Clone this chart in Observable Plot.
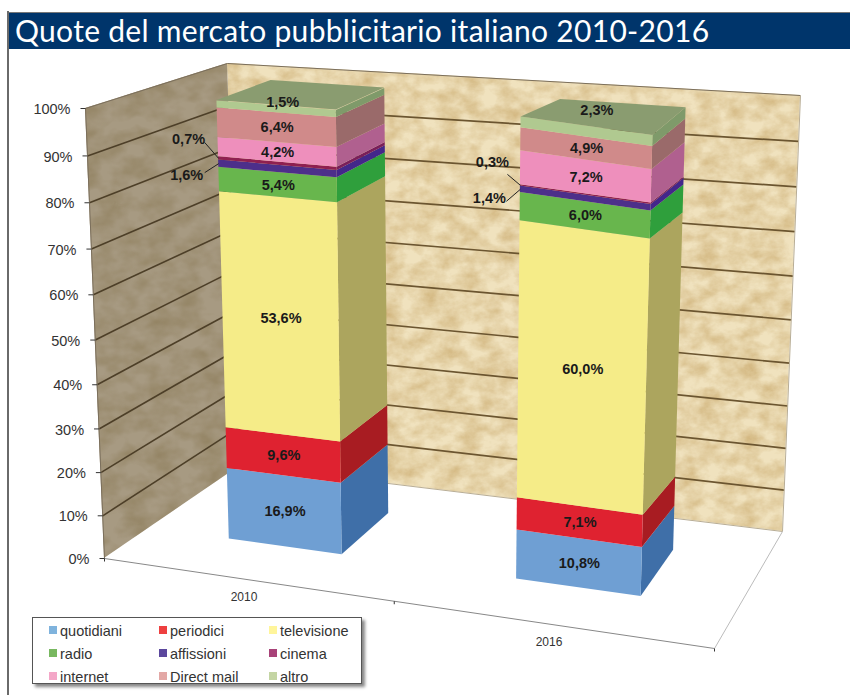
<!DOCTYPE html>
<html><head><meta charset="utf-8">
<script src="https://cdn.jsdelivr.net/npm/d3@7"></script>
<script src="https://cdn.jsdelivr.net/npm/@observablehq/plot@0.6"></script>
<style>
html,body{margin:0;padding:0;background:#fff;}
#page{position:relative;width:850px;height:695px;overflow:hidden;font-family:"Liberation Sans",Arial,sans-serif;}
#frame{position:absolute;left:7px;top:11px;bottom:0;width:0;border-left:2px solid #6a6a6a;z-index:3}
#pad{height:12px}
#title{margin-left:8px;height:37px;background:#00356b;color:#fff;border-top:1px solid #777;box-sizing:border-box;
 font-family:Lato,"Open Sans",sans-serif;font-weight:400;font-size:30px;line-height:35px;padding-left:7px;white-space:nowrap;letter-spacing:0.3px;}
#legend{position:absolute;left:32px;top:617px;width:330px;height:67px;box-sizing:border-box;background:#fff;border:1px solid #555;
 box-shadow:3px 3px 3px #888;display:grid;grid-template-columns:110px 110px 100px;grid-auto-rows:23px;padding:1px 0 0 16px;font-size:14.5px;color:#333;}
#legend div{display:flex;align-items:center;white-space:nowrap}
#legend i{display:inline-block;width:8px;height:8px;margin-right:3px;position:relative;top:-1px}
</style></head>
<body>
<svg width="0" height="0" style="position:absolute"><defs>
<filter id="marble" x="0" y="0" width="100%" height="100%" color-interpolation-filters="sRGB">
<feTurbulence type="fractalNoise" baseFrequency="0.05 0.07" numOctaves="4" seed="4" result="n"/>
<feColorMatrix in="n" type="matrix" values="0 0 0 0 .80  0 0 0 0 .68  0 0 0 0 .45  1.3 0 0 0 -0.38" result="c"/>
<feComposite in="c" in2="SourceAlpha" operator="in" result="t"/>
<feMerge><feMergeNode in="SourceGraphic"/><feMergeNode in="t"/></feMerge>
</filter>
<filter id="marbleDark" x="0" y="0" width="100%" height="100%" color-interpolation-filters="sRGB">
<feTurbulence type="fractalNoise" baseFrequency="0.04 0.06" numOctaves="3" seed="9" result="n"/>
<feColorMatrix in="n" type="matrix" values="0 0 0 0 .52  0 0 0 0 .45  0 0 0 0 .30  1.0 0 0 0 -0.33" result="c"/>
<feComposite in="c" in2="SourceAlpha" operator="in" result="t"/>
<feMerge><feMergeNode in="SourceGraphic"/><feMergeNode in="t"/></feMerge>
</filter></defs></svg>
<div id="page">
<div id="frame"></div>
<div id="pad"></div>
<div id="title">Quote del mercato pubblicitario italiano 2010-2016</div>
<div id="chart"></div>
<div id="legend"></div>
</div>
<script>
const years = ["2010", "2016"];
const series = ["quotidiani","periodici","televisione","radio","affissioni","cinema","internet","Direct mail","altro"];
const values2010 = [16.9, 9.6, 53.6, 5.4, 1.6, 0.7, 4.2, 6.4, 1.5];
const values2016 = [10.8, 7.1, 60.0, 6.0, 1.4, 0.3, 7.2, 4.9, 2.3];
const yTicks = [0,10,20,30,40,50,60,70,80,90,100];
const legendColors = ["#7fb3dd","#ee4040","#fff59b","#78b860","#5b479d","#a84278","#f4a7c8","#e3a8a6","#c4d5a4"];
const frontColors = ["#6f9fd3","#df2230","#f5ec88","#68b64d","#4d2f8a","#8f2050","#ee8fbc","#d08a8a","#b0c990"];
const sideColors  = ["#3f6fa8","#a81c22","#aca55e","#2f9f3c","#43278a","#7a1f5a","#b0608f","#9a6a6a","#7f9a6a"];
const topColor = "#8a9c70";

// Oblique view of the chart box: corners of the box as seen in the picture.
const box = {
  floor: {A:[104,558],B:[714,648],C:[782,531],D:[240,465]},
  roof:  {A:[85,108], B:[731,167],C:[800,95], D:[227,63]}
};
const barU = [[.136,.328],[.625,.837]];
const barV = [.33,.74];
const wallPersp = 1.06;
const barPersp = [[1.06,1.06],[1.02,1.1]];   // front, back of each bar
const barLift = [0,8];                       // front-left corner of a bar, at its top
const lerp = (a,b,t)=>[a[0]+(b[0]-a[0])*t, a[1]+(b[1]-a[1])*t];
function plane(p,u,v){ return lerp(lerp(p.A,p.B,u), lerp(p.D,p.C,u), v); }
// u: across, v: depth, w: percent, k: perspective along the height, lift: upward shift at the top
function P(u,v,w,k=wallPersp,lift=0){
  const t = w/100, tt = t/(t+(1-t)*k);
  const p = lerp(plane(box.floor,u,v), plane(box.roof,u,v), tt);
  return [p[0], p[1]-lift*tt];
}
const quad = (a,b,c,d,extra)=>[
  {x1:a[0],y1:a[1],x2:b[0],y2:b[1],...extra},
  {x1:d[0],y1:d[1],x2:c[0],y2:c[1],...extra}];

// Walls
const backWall = quad(P(0,1,0),P(0,1,100),P(1,1,100),P(1,1,0));
const sideWall = quad(P(0,0,0),P(0,0,100),P(0,1,100),P(0,1,0));

// Bars
const front=[], side=[], topFaces=[], mainLabels=[], sideLabels=[], leaders=[];
const fmt = v=>v.toFixed(1).replace(".",",")+"%";
// the top slice is labelled on the top face; thin slices beside the bar with a leader
const nudges = {"0-8":[6,-7],"1-8":[10,-21]};
const outside = {"0-4":[-32,12,18,-3],"0-5":[-30,-19,16,3],"1-4":[-31,9,17,3],"1-5":[-28,-23,15,12]};
[values2010,values2016].forEach((vals,b)=>{
  const [u0,u1]=barU[b], [v0,v1]=barV, [kf,kb]=barPersp[b], lf=barLift[b];
  const FL=w=>P(u0,v0,w,kf,lf), FR=w=>P(u1,v0,w,kf), BR=w=>P(u1,v1,w,kb);
  let cum=0;
  vals.forEach((v,s)=>{
    const lo=cum, hi=cum+v; cum=hi;
    const key=b+"-"+s;
    front.push(...quad(FL(lo),FL(hi),FR(hi),FR(lo),{k:key,series:series[s]}));
    side.push(...quad(FR(lo),FR(hi),BR(hi),BR(lo),{k:key,fill:sideColors[s]}));
    const mid=(lo+hi)/2;
    if (outside[key]) {
      const e=FL(mid), o=outside[key];
      const lx=e[0]+o[0], ly=e[1]+o[1];
      sideLabels.push({x:lx,y:ly,text:fmt(v)});
      leaders.push({x1:lx+o[2],y1:ly+o[3],x2:e[0],y2:e[1]});
    } else {
      const c=lerp(FL(mid),FR(mid),.5), n=nudges[key]||[0,0];
      mainLabels.push({x:c[0]+n[0],y:c[1]+n[1],text:fmt(v)});
    }
  });
  topFaces.push(...quad(FL(100),P(u0,v1,100),BR(100),FR(100),{k:years[b]}));
});

const inner = yTicks.filter(t=>t>0&&t<100);
const gridLeft = inner.map(t=>{const a=P(0,0,t),b=P(0,1,t);return{x1:a[0],y1:a[1],x2:b[0],y2:b[1]};});
const gridBack = inner.map(t=>{const a=P(0,1,t),b=P(1,1,t);return{x1:a[0],y1:a[1],x2:b[0],y2:b[1]};});
const tickRows = yTicks.map(t=>{const a=P(0,0,t);return{x:a[0],y:a[1],t};});
const edgeOf=(a,b)=>({x1:a[0],y1:a[1],x2:b[0],y2:b[1]});
const L={x1:"x1",y1:"y1",x2:"x2",y2:"y2"};

const chart = Plot.plot({
  width:850,height:646,margin:0,
  style:{background:"none",fontFamily:'"Liberation Sans",Arial,sans-serif'},
  x:{type:"linear",domain:[0,850],range:[0,850],axis:null},
  y:{type:"linear",domain:[49,695],range:[0,646],axis:null},
  color:{domain:series,range:frontColors},
  marks:[
    Plot.area(backWall,{...L,fill:"#f0e2be",imageFilter:"url(#marble)"}),
    Plot.area(sideWall,{...L,fill:"#a79a82",imageFilter:"url(#marbleDark)"}),
    Plot.link(gridBack,{...L,stroke:"#6b5530",strokeWidth:1.7}),
    Plot.link(gridLeft,{...L,stroke:"#4d3f28",strokeWidth:1.6}),
    // box edges
    Plot.link([edgeOf(P(0,0,100),P(0,1,100)),edgeOf(P(0,1,100),P(1,1,100)),edgeOf(P(0,0,0),P(0,0,100))],{...L,stroke:"#7b6f5c",strokeWidth:1}),
    Plot.link([edgeOf(P(0,1,0),P(1,1,0)),edgeOf(P(1,1,0),P(1,1,100))],{...L,stroke:"#b8ad95",strokeWidth:1}),
    Plot.link([edgeOf(P(0,0,0),P(1,0,0))],{...L,stroke:"#888",strokeWidth:1}),
    Plot.link([edgeOf(P(1,0,0),P(1,1,0))],{...L,stroke:"#bbb",strokeWidth:1}),
    // bars
    Plot.area(side,{...L,z:"k",fill:"fill"}),
    Plot.area(front,{...L,z:"k",fill:"series"}),
    Plot.area(topFaces,{...L,z:"k",fill:topColor}),
    // axes
    Plot.link(tickRows,{x1:d=>d.x-5,y1:"y",x2:"x",y2:"y",stroke:"#333"}),
    Plot.text(tickRows,{x:"x",y:"y",dx:-15,dy:1,text:d=>d.t+"%",textAnchor:"end",fontSize:14.5,fill:"#333"}),
    Plot.link([0,.475,1],{x1:u=>P(u,0,0)[0],y1:u=>P(u,0,0)[1],x2:u=>P(u,0,0)[0],y2:u=>P(u,0,0)[1]+3,stroke:"#333"}),
    Plot.text(years,{x:(y,i)=>P(i*.5+.25,0,0)[0],y:(y,i)=>P(i*.5+.25,0,0)[1],dx:-13,dy:16,text:d=>d,fontSize:12,fill:"#333"}),
    // labels
    Plot.text(mainLabels,{x:"x",y:"y",text:"text",fontWeight:"bold",fontSize:14.5,fill:"#1a1a1a"}),
    Plot.text(sideLabels,{x:"x",y:"y",text:"text",fontWeight:"bold",fontSize:14.5,fill:"#1a1a1a"}),
    Plot.link(leaders,{...L,stroke:"#222",strokeWidth:1})
  ]
});
document.getElementById("chart").appendChild(chart);
const lg=document.getElementById("legend");
series.forEach((s,i)=>{
  const d=document.createElement("div");
  const sw=document.createElement("i"); sw.style.background=legendColors[i];
  d.appendChild(sw); d.appendChild(document.createTextNode(s)); lg.appendChild(d);
});
</script>
</body></html>
